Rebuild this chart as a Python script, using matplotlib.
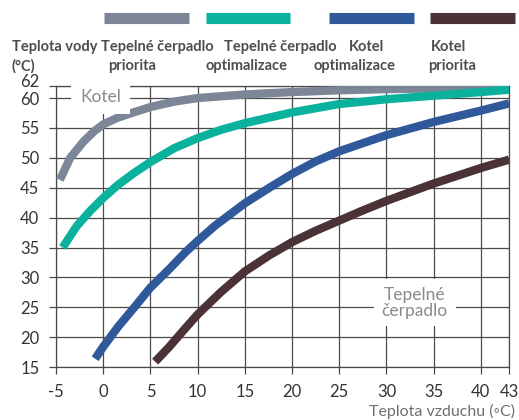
import matplotlib
matplotlib.use("Agg")
import matplotlib.pyplot as plt
from matplotlib.lines import Line2D
from matplotlib.transforms import ScaledTranslation

# ---- data ----
series_names = ["Tepelné čerpadlo\npriorita", "Tepelné čerpadlo\noptimalizace",
                "Kotel\noptimalizace", "Kotel\npriorita"]
colors = ["#7c8696", "#0ab29d", "#30599b", "#4b3236"]

gray_x = [-4.6, -3.5, -2.1, -1.0, 0, 1.5, 3.2, 5, 7.5, 10, 15, 20, 25, 30, 35, 43]
gray_y = [46.3, 50.0, 52.7, 54.4, 55.6, 56.7, 57.6, 58.5, 59.4, 60.0, 60.6, 61.0,
          61.3, 61.5, 61.6, 61.7]

teal_x = [-4.3, -2.8, -1.4, 0, 1.5, 3.2, 5, 7.5, 10, 12.5, 15, 20, 25, 30, 35, 40, 43]
teal_y = [35.0, 38.6, 41.1, 43.3, 45.4, 47.4, 49.3, 51.6, 53.3, 54.7, 55.8, 57.6,
          59.0, 59.8, 60.4, 61.0, 61.4]

blue_x = [-0.85, 0, 1.6, 3.4, 5, 7, 8.7, 10, 11.8, 15, 17.6, 20, 22.5, 25, 30, 35, 40, 43]
blue_y = [16.4, 18.4, 21.8, 25.2, 28.3, 31.4, 34.2, 36.1, 38.6, 42.4, 45.0, 47.3,
          49.4, 51.1, 53.8, 56.0, 57.9, 59.1]

brown_x = [5.5, 7, 8.7, 10, 12.5, 15, 17.6, 20, 22.5, 25, 27.5, 30, 35, 40, 43]
brown_y = [15.9, 18.4, 21.5, 23.8, 27.6, 31.0, 33.7, 35.9, 37.8, 39.5, 41.2, 42.8,
           45.7, 48.3, 49.7]

xticks = [-5, 0, 5, 10, 15, 20, 25, 30, 35, 40, 43]
yticks = [15, 20, 25, 30, 35, 40, 45, 50, 55, 60, 62]

plt.rcParams["font.family"] = ["Lato", "DejaVu Sans"]
plt.rcParams["axes.unicode_minus"] = False

fig = plt.figure(figsize=(5.19, 4.2), dpi=100)
ax = fig.add_axes([0.108, 0.126, 0.873, 0.669])

for xs, ys, c in zip([gray_x, teal_x, blue_x, brown_x],
                     [gray_y, teal_y, blue_y, brown_y], colors):
    ax.plot(xs, ys, color=c, lw=6, solid_capstyle="butt",
            solid_joinstyle="round", zorder=3)

ax.set_xlim(-5, 43)
ax.set_ylim(15, 62)
ax.set_xticks(xticks)
ax.set_yticks(yticks)
ax.grid(True, color="#4a4a4a", lw=0.9, zorder=1)
ax.set_axisbelow(True)
for s in ax.spines.values():
    s.set_color("#4a4a4a")
    s.set_linewidth(0.9)
ax.tick_params(length=5, width=0.9, color="#4a4a4a", labelsize=12,
               labelcolor="#333333")
ax.tick_params(axis="x", pad=7)
ax.tick_params(axis="y", pad=7)

# the "62" label sits above the top line in the reference
top = ax.yaxis.get_major_ticks()[-1].label1
top.set_transform(top.get_transform() + ScaledTranslation(0, 6 / 100, fig.dpi_scale_trans))

# in-plot labels with white boxes
ax.text(-0.3, 60.2, "Kotel", fontsize=12.5, color="#8a8a8a", ha="center",
        va="center", zorder=4,
        bbox=dict(boxstyle="square,pad=0.5", fc="white", ec="none"))
ax.text(33.0, 25.8, "Tepelné\nčerpadlo", fontsize=12.5, color="#8a8a8a",
        ha="center", va="center", linespacing=1.0, zorder=4,
        bbox=dict(boxstyle="square,pad=0.45", fc="white", ec="none"))

fig.text(0.992, 0.021, "Teplota vzduchu (◦C)", fontsize=11.5, color="#707070",
         ha="right", va="center")

# header: legend bars and labels
bar_x = [(104, 189), (206, 290), (329, 414), (430, 515)]
for (x0, x1), c in zip(bar_x, colors):
    fig.add_artist(Line2D([x0 / 519, x1 / 519], [1 - 18 / 420] * 2, color=c,
                          lw=8, solid_capstyle="butt"))

hdr = dict(fontsize=10.5, fontweight="bold", color="#4d4d4d", va="center")
fig.text(12 / 519, 1 - 47 / 420, "Teplota vody", ha="left", **hdr)
fig.text(12 / 519, 1 - 66 / 420, "(°C)", ha="left", **hdr)
line1_x = [157, 280, 367, 449]
line2_x = [132, 246, 355, 452]
for name, x1, x2 in zip(series_names, line1_x, line2_x):
    l1, l2 = name.split("\n")
    fig.text(x1 / 519, 1 - 47 / 420, l1, ha="center", **hdr)
    fig.text(x2 / 519, 1 - 66 / 420, l2, ha="center", **hdr)

fig.savefig("out.png", dpi=100)
